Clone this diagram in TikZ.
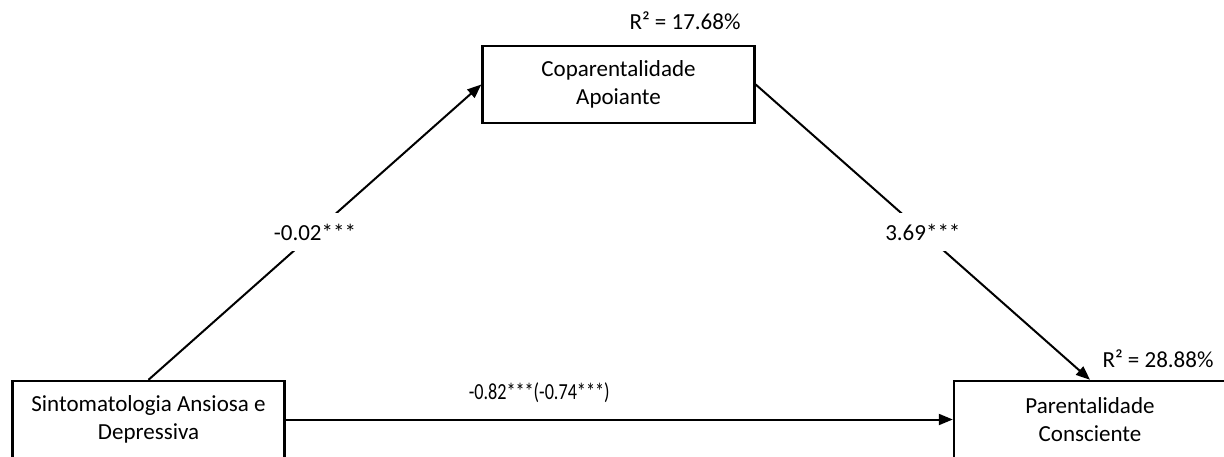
\documentclass[tikz,border=0pt]{standalone}
\usepackage{fontspec}
\setmainfont{Carlito}
\usetikzlibrary{arrows.meta}
\begin{document}
\begin{tikzpicture}[x=1pt,y=-1pt,
  every node/.style={font=\fontsize{23}{28}\selectfont},
  box/.style={draw, line width=2.4pt, minimum width=272pt, minimum height=77pt, inner sep=0pt, align=center},
  conn/.style={line width=2pt, -{Triangle[length=14pt,width=11pt]}},
  coef/.style={fill=white, inner xsep=2pt, inner ysep=11pt}]
\clip (0,0) rectangle (1224,457);
\node[box] (top) at (618.5,84.5) {Coparentalidade\\Apoiante};
\node[box] (sin) at (148.5,419.5) {Sintomatologia Ansiosa e\\Depressiva};
\node[box] (par) at (1090,419.5) {Parentalidade\\Consciente};
\node[anchor=base] (r1) at (685,29.5) {R² = 17.68\%};
\node[anchor=base] (r2) at (1158,367) {R² = 28.88\%};
\draw[conn] (sin.north) -- node[coef] (a) {-0.02***} (top.west);
\draw[conn] (top.east) -- node[coef] (b) {3.69***} (par.north);
\draw[conn] (sin.east) -- node[pos=0.38, above=12pt] (c) {\scalebox{0.79}[1]{-0.82***(-0.74***)}} (par.west);
\end{tikzpicture}
\end{document}
